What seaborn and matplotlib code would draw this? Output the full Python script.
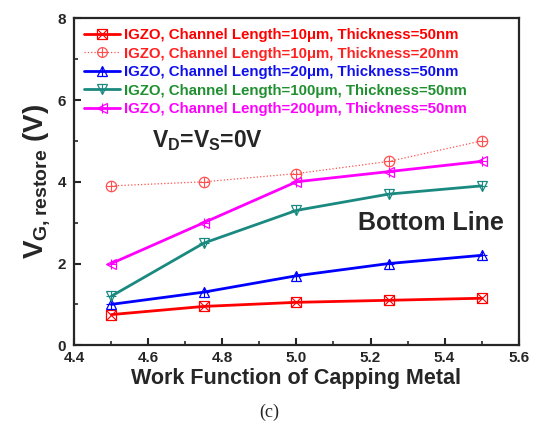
import numpy as np
import pandas as pd
import matplotlib
matplotlib.use("Agg")
import matplotlib.pyplot as plt
from matplotlib.lines import Line2D
from matplotlib.ticker import MultipleLocator
import seaborn as sns

sns.set_style("ticks")
plt.rcParams['font.family'] = ['Liberation Sans', 'DejaVu Sans']
plt.rcParams['mathtext.fontset'] = 'custom'
plt.rcParams['mathtext.rm'] = 'Liberation Sans'
plt.rcParams['mathtext.bf'] = 'Liberation Sans:bold'

work_function = [4.5, 4.75, 5.0, 5.25, 5.5]
labels = [
    "IGZO, Channel Length=10\u03bcm, Thickness=50nm",
    "IGZO, Channel Length=10\u03bcm, Thickness=20nm",
    "IGZO, Channel Length=20\u03bcm, Thickness=50nm",
    "IGZO, Channel Length=100\u03bcm, Thickness=50nm",
    "IGZO, Channel Length=200\u03bcm, Thickness=50nm",
]
l10_t50 = [0.75, 0.95, 1.05, 1.1, 1.15]
l10_t20 = [3.9, 4.0, 4.2, 4.5, 5.0]
l20_t50 = [1.0, 1.3, 1.7, 2.0, 2.2]
l100_t50 = [1.2, 2.5, 3.3, 3.7, 3.9]
l200_t50 = [2.0, 3.0, 4.0, 4.25, 4.5]

series = [l10_t50, l10_t20, l20_t50, l100_t50, l200_t50]
colors = ["#ff0000", "#ff5050", "#0000ff", "#1a8a80", "#ff00ff"]
text_colors = ["#ff0000", "#ff2020", "#1010ee", "#1f8f2f", "#ff00ff"]
markers = ["s", "o", "^", "v", "<"]
inner = ["x", "+", "+", "+", "+"]
styles = ["-", ":", "-", "-", "-"]
widths = [2.0, 0.9, 2.0, 2.0, 2.0]

fig, ax = plt.subplots(figsize=(5.38, 4.37), dpi=100)
fig.subplots_adjust(left=0.138, right=0.964, top=0.958, bottom=0.21)

handles = []
for vals, c, m, im, ls, lw in zip(series, colors, markers, inner, styles, widths):
    df = pd.DataFrame({"x": work_function, "y": vals})
    sns.lineplot(data=df, x="x", y="y", ax=ax, color=c, linestyle=ls, linewidth=lw,
                 marker=m, markersize=7.5, markerfacecolor="none",
                 markeredgecolor=c, markeredgewidth=0.9)
    sns.lineplot(data=df, x="x", y="y", ax=ax, color=c, linestyle="",
                 marker=im, markersize=7, markeredgecolor=c, markeredgewidth=0.8)
    h1 = Line2D([], [], color=c, linestyle=ls, linewidth=lw, marker=m, markersize=7,
                markerfacecolor="none", markeredgecolor=c, markeredgewidth=0.9)
    h2 = Line2D([], [], color=c, linestyle="", marker=im, markersize=6.5,
                markeredgecolor=c, markeredgewidth=0.8)
    handles.append((h1, h2))

leg = ax.legend(handles, labels, loc="upper left", frameon=False,
                prop={"weight": "bold", "size": 10.8}, handlelength=2.4,
                handletextpad=0.25, labelspacing=0.3, borderaxespad=0.25,
                bbox_to_anchor=(0.0, 1.0))
for t, tc in zip(leg.get_texts(), text_colors):
    t.set_color(tc)

ax.set_xlim(4.4, 5.6)
ax.set_ylim(0, 8)
ax.xaxis.set_minor_locator(MultipleLocator(0.1))
ax.yaxis.set_major_locator(MultipleLocator(2))
ax.yaxis.set_minor_locator(MultipleLocator(1))
ax.set_xticks([4.4, 4.6, 4.8, 5.0, 5.2, 5.4, 5.6])
ax.set_xticklabels(["4.4", "4.6", "4.8", "5.0", "5.2", "5.4", "5.6"])
ax.tick_params(which="major", direction="in", length=5, width=1.5,
               labelsize=11, pad=4, top=False, right=False)
ax.tick_params(axis="y", which="major", pad=6)
ax.tick_params(which="minor", direction="in", length=3, width=1.2,
               top=False, right=False)
for lab in ax.get_xticklabels() + ax.get_yticklabels():
    lab.set_fontweight("bold")
for sp in ax.spines.values():
    sp.set_linewidth(1.6)
    sp.set_visible(True)

ax.set_xlabel("Work Function of Capping Metal", fontsize=15.5, fontweight="bold", labelpad=2)
ax.set_ylabel(r"$\mathbf{V_{G,restore}}$ (V)", fontsize=20, fontweight="bold", labelpad=4)

ax.text(4.61, 4.85, r"$\mathbf{V_D}$=$\mathbf{V_S}$=0V", fontsize=16.5, fontweight="bold")
ax.text(5.165, 3.0, "Bottom Line", fontsize=18, fontweight="bold", va="center")

fig.text(0.5, 0.045, "(c)", ha="center", fontsize=13, family="Liberation Serif")

fig.savefig("out.png", dpi=100)
